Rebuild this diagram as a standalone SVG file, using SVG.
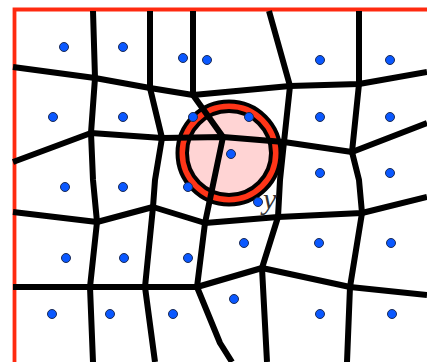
<svg xmlns="http://www.w3.org/2000/svg" width="427" height="362" viewBox="0 0 427 362">
<style>
.e{fill:none;stroke:#000;stroke-width:6;stroke-linejoin:round;stroke-linecap:butt}
.d{fill:#0a58ff;stroke:#1a2a55;stroke-width:1}
.lbl{font-family:"Liberation Serif",serif;font-style:italic;font-size:30px;fill:#333}
</style>
<rect width="427" height="362" fill="#fff"/>
<path d="M14.5 362 V9.5 H427" fill="none" stroke="#ff2a10" stroke-width="3.8"/>
<g id="circle">
<circle cx="229" cy="153" r="51.5" fill="#ff3518" stroke="#000" stroke-width="4"/>
<circle cx="229" cy="153" r="42" fill="#ffd4d4" stroke="#000" stroke-width="4"/>
</g>
<g id="connectors">
<polyline class="e" points="93,11 95,78 91,133"/>
<polyline class="e" points="150,11 150,88 162,138"/>
<polyline class="e" points="193,11 193,95 223,137"/>
<polyline class="e" points="269,11 290,86 284,142"/>
<polyline class="e" points="359,11 359,84 352,152"/>
<polyline class="e" points="13,67 95,78 150,88 193,95 290,86 359,84 427,72"/>
<polyline class="e" points="13,162 91,133 162,138 223,137 284,142 352,152 427,123"/>
<polyline class="e" points="91,133 93,180 97,222 90,287 93,362"/>
<polyline class="e" points="162,138 155,180 153,207 145,287 155,362"/>
<polyline class="e" points="223,137 205,223 197,287 220,343 232,362"/>
<polyline class="e" points="284,142 280,180 278,217 262,268 267,362"/>
<polyline class="e" points="352,152 359,180 362,213 350,287 347,362"/>
<polyline class="e" points="13,212 97,222 153,207 205,223 278,217 362,213 427,197"/>
<polyline class="e" points="13,287 90,287 145,287 197,287 262,268 350,287 427,295"/>
</g>
<g id="sites">
<g id="n1"><circle class="d" cx="64" cy="47" r="4.5"/></g>
<g id="n2"><circle class="d" cx="123" cy="47" r="4.5"/></g>
<g id="n3"><circle class="d" cx="183" cy="58" r="4.5"/></g>
<g id="n4"><circle class="d" cx="207" cy="60" r="4.5"/></g>
<g id="n5"><circle class="d" cx="320" cy="60" r="4.5"/></g>
<g id="n6"><circle class="d" cx="390" cy="60" r="4.5"/></g>
<g id="n7"><circle class="d" cx="53" cy="117" r="4.5"/></g>
<g id="n8"><circle class="d" cx="123" cy="117" r="4.5"/></g>
<g id="n9"><circle class="d" cx="193" cy="117" r="4.5"/></g>
<g id="n10"><circle class="d" cx="249" cy="117" r="4.5"/></g>
<g id="n11"><circle class="d" cx="320" cy="117" r="4.5"/></g>
<g id="n12"><circle class="d" cx="390" cy="117" r="4.5"/></g>
<g id="n13"><circle class="d" cx="231" cy="154" r="4.5"/></g>
<g id="n14"><circle class="d" cx="65" cy="187" r="4.5"/></g>
<g id="n15"><circle class="d" cx="123" cy="187" r="4.5"/></g>
<g id="n16"><circle class="d" cx="188" cy="187" r="4.5"/></g>
<g id="n17"><circle class="d" cx="320" cy="173" r="4.5"/></g>
<g id="n18"><circle class="d" cx="390" cy="173" r="4.5"/></g>
<g id="n19"><circle class="d" cx="258" cy="202" r="4.5"/></g>
<g id="n20"><circle class="d" cx="66" cy="258" r="4.5"/></g>
<g id="n21"><circle class="d" cx="124" cy="258" r="4.5"/></g>
<g id="n22"><circle class="d" cx="188" cy="258" r="4.5"/></g>
<g id="n23"><circle class="d" cx="244" cy="243" r="4.5"/></g>
<g id="n24"><circle class="d" cx="319" cy="243" r="4.5"/></g>
<g id="n25"><circle class="d" cx="391" cy="243" r="4.5"/></g>
<g id="n26"><circle class="d" cx="52" cy="314" r="4.5"/></g>
<g id="n27"><circle class="d" cx="110" cy="314" r="4.5"/></g>
<g id="n28"><circle class="d" cx="173" cy="314" r="4.5"/></g>
<g id="n29"><circle class="d" cx="234" cy="299" r="4.5"/></g>
<g id="n30"><circle class="d" cx="320" cy="314" r="4.5"/></g>
<g id="n31"><circle class="d" cx="392" cy="314" r="4.5"/></g>
</g>
<text class="lbl" x="263" y="209">y</text>
</svg>
